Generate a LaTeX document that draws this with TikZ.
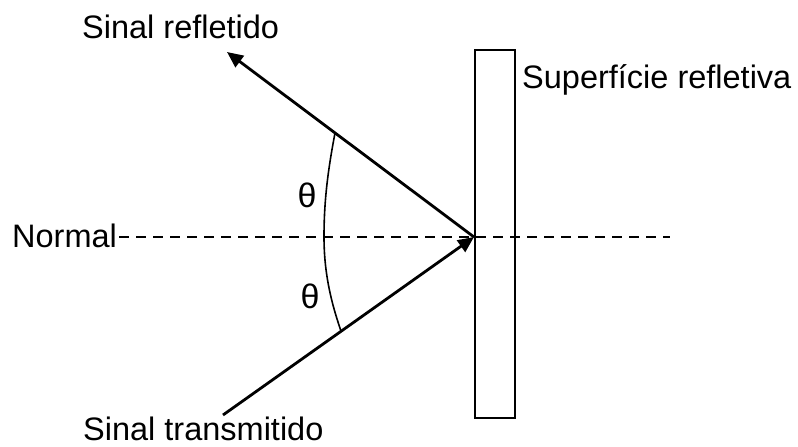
\documentclass[tikz,border=0pt]{standalone}
\usepackage{fontspec}
\setmainfont{Liberation Sans}
\usetikzlibrary{arrows.meta}
\begin{document}
\begin{tikzpicture}[x=1pt,y=-1pt,
  lbl/.style={inner sep=0pt,anchor=base west,font=\fontsize{32.5}{38}\selectfont},
  ang/.style={inner sep=0pt,font=\fontsize{34}{40}\selectfont},
  ray/.style={line width=2.8pt,-{Triangle[length=16pt,width=14pt]}},
  surf/.style={draw,line width=2.6pt,minimum width=40pt,minimum height=368pt,inner sep=0pt},
  normalline/.style={line width=2.2pt,dash pattern=on 10pt off 7pt},
  arcline/.style={line width=1.6pt}]
\useasboundingbox (0,0) rectangle (798,447);
\fill[white] (0,0) rectangle (798,447);
\node[surf] (wall) at (495,234) {};
\node[lbl] (refl) at (82,38) {Sinal refletido};
\node[lbl] (sup) at (522,88) {Superfície refletiva};
\node[lbl] (norm) at (12,247) {Normal};
\node[lbl] (trans) at (83,440) {Sinal transmitido};
\coordinate (hit) at (474,237);
\coordinate (rtip) at (227,52);
\coordinate (tstart) at (223,415);
\coordinate (nend) at (670,237);
\coordinate (a1) at (335,133);
\coordinate (a2) at (324,237);
\coordinate (a3) at (341,331);
\draw[normalline] (norm.east |- hit) ++(2,0) -- (nend);
\draw[ray] (hit) -- (rtip);
\draw[ray] (tstart) -- (hit);
\draw[arcline] (a1) .. controls (328,170) and (324,200) .. (a2)
  .. controls (324,275) and (332,305) .. (a3);
\node[ang] (th1) at (307,195) {θ};
\node[ang] (th2) at (310,296) {θ};
\end{tikzpicture}
\end{document}
